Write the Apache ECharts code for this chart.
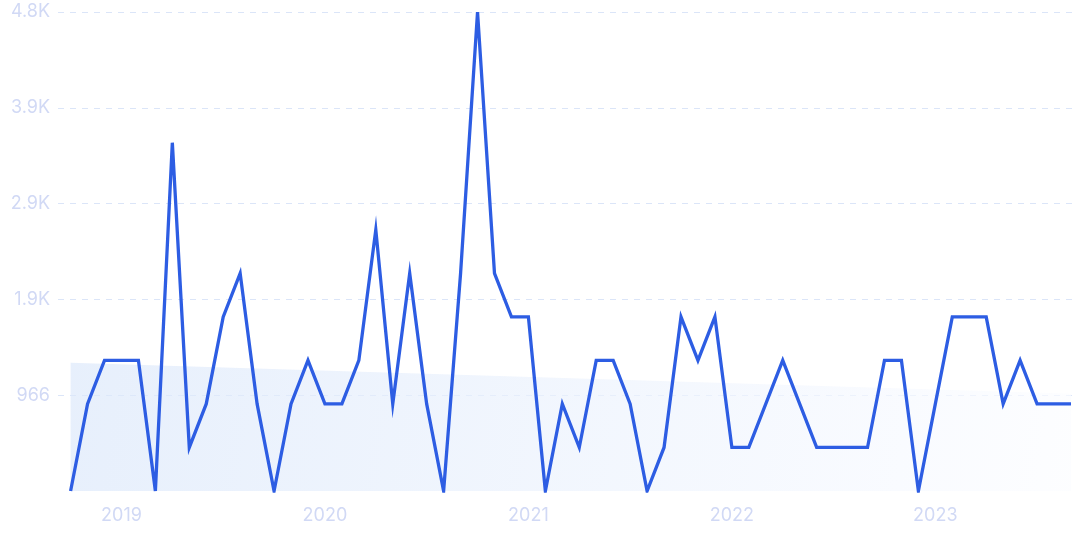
<!DOCTYPE html>
<html>
<head>
<meta charset="utf-8">
<script src="https://cdn.jsdelivr.net/npm/echarts@6/dist/echarts.min.js"></script>
<style>
html,body{margin:0;padding:0;background:#fff;}
#chart{width:1075px;height:537px;}
</style>
</head>
<body>
<div id="chart"></div>
<script>
var months = ['2018-10','2018-11','2018-12',
  '2019-01','2019-02','2019-03','2019-04','2019-05','2019-06','2019-07','2019-08','2019-09','2019-10','2019-11','2019-12',
  '2020-01','2020-02','2020-03','2020-04','2020-05','2020-06','2020-07','2020-08','2020-09','2020-10','2020-11','2020-12',
  '2021-01','2021-02','2021-03','2021-04','2021-05','2021-06','2021-07','2021-08','2021-09','2021-10','2021-11','2021-12',
  '2022-01','2022-02','2022-03','2022-04','2022-05','2022-06','2022-07','2022-08','2022-09','2022-10','2022-11','2022-12',
  '2023-01','2023-02','2023-03','2023-04','2023-05','2023-06','2023-07','2023-08','2023-09'];
var values = [0,878,1317,
  1317,1317,0,3512,439,878,1756,2195,878,0,878,1317,
  878,878,1317,2634,878,2195,878,0,2195,4830,2195,1756,
  1756,0,878,439,1317,1317,878,0,439,1756,1317,1756,
  439,439,878,1317,878,439,439,439,439,1317,1317,0,
  878,1756,1756,1756,878,1317,878,878,878];
var trendStart = 1292;
var trendEnd = 981;
var yearLabels = ['2019','2020','2021','2022','2023'];
var yMax = 4830;
var yInterval = 966;

var yearPos = yearLabels.map(function(y){ return months.indexOf(y + '-01'); });
var lineData = values.map(function(v, i){ return [i, v]; });
var trendData = [[0, trendStart], [months.length - 1, trendEnd]];

var chart = echarts.init(document.getElementById('chart'), null, {renderer:'canvas'});
var labelColor = '#d1d9f5';
chart.setOption({
  animation: false,
  grid: {left: 58, right: 3, top: 12, bottom: 46, containLabel: false},
  xAxis: {
    type: 'value',
    min: -0.743,
    max: 59.06,
    axisLine: {show: false},
    axisTick: {show: false},
    splitLine: {show: false},
    axisLabel: {
      customValues: yearPos,
      margin: 16,
      color: labelColor,
      fontFamily: 'Inter',
      fontSize: 18,
      formatter: function(v){
        var i = yearPos.indexOf(Math.round(v));
        return i >= 0 ? yearLabels[i] : '';
      }
    }
  },
  yAxis: {
    type: 'value',
    min: 0,
    max: yMax,
    interval: yInterval,
    axisLine: {show: false},
    axisTick: {show: false},
    splitLine: {show: true, showMinLine: false, lineStyle: {color: '#dbe5f8', type: [6, 6], width: 1}},
    axisLabel: {
      margin: 8,
      color: labelColor,
      fontFamily: 'Inter',
      fontSize: 18,
      formatter: function(v){
        if (v === 0) return '';
        if (v >= 1000) return (v / 1000).toFixed(1) + 'K';
        return String(v);
      }
    }
  },
  series: [
    {
      type: 'line',
      data: trendData,
      symbol: 'none',
      lineStyle: {width: 0, opacity: 0},
      areaStyle: {
        origin: 'start',
        color: new echarts.graphic.LinearGradient(0, 0, 1, 1, [
          {offset: 0, color: '#dce8fa'},
          {offset: 1, color: '#fbfcff'}
        ])
      },
      silent: true,
      z: 1
    },
    {
      type: 'line',
      data: lineData,
      symbol: 'none',
      lineStyle: {width: 3.3, color: '#2d5de3', join: 'miter'},
      z: 3
    }
  ]
});
</script>
</body>
</html>
